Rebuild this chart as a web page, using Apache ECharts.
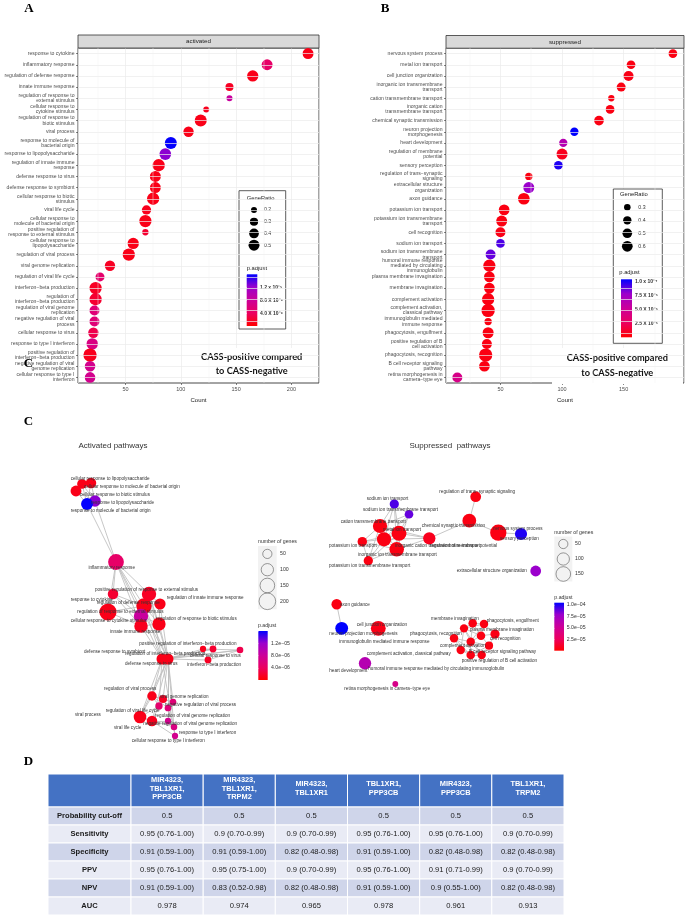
<!DOCTYPE html>
<html><head><meta charset="utf-8">
<script src="https://cdn.jsdelivr.net/npm/echarts@6/dist/echarts.min.js"></script>
<style>html,body{margin:0;padding:0;background:#fff}#c{width:685px;height:915px}</style>
</head><body><div id="c"></div><script>
// ---------------- Panel A data (activated) ----------------
const namesA = ['response to cytokine','inflammatory response','regulation of defense response','innate immune response','regulation of response to external stimulus','cellular response to cytokine stimulus','regulation of response to biotic stimulus','viral process','response to molecule of bacterial origin','response to lipopolysaccharide','regulation of innate immune response','defense response to virus','defense response to symbiont','cellular response to biotic stimulus','viral life cycle','cellular response to molecule of bacterial origin','positive regulation of response to external stimulus','cellular response to lipopolysaccharide','regulation of viral process','viral genome replication','regulation of viral life cycle','interferon−beta production','regulation of interferon−beta production','regulation of viral genome replication','negative regulation of viral process','cellular response to virus','response to type I interferon','positive regulation of interferon−beta production','negative regulation of viral genome replication','cellular response to type I interferon'];
const labelsA = ['response to cytokine','inflammatory response','regulation of defense response','innate immune response','regulation of response to\nexternal stimulus','cellular response to\ncytokine stimulus','regulation of response to\nbiotic stimulus','viral process','response to molecule of\nbacterial origin','response to lipopolysaccharide','regulation of innate immune\nresponse','defense response to virus','defense response to symbiont','cellular response to biotic\nstimulus','viral life cycle','cellular response to\nmolecule of bacterial origin','positive regulation of\nresponse to external stimulus','cellular response to\nlipopolysaccharide','regulation of viral process','viral genome replication','regulation of viral life cycle','interferon−beta production','regulation of\ninterferon−beta production','regulation of viral genome\nreplication','negative regulation of viral\nprocess','cellular response to virus','response to type I interferon','positive regulation of\ninterferon−beta production','negative regulation of viral\ngenome replication','cellular response to type I\ninterferon'];
const countA = [215,178,165,144,144,123,118,107,91,86,80,77,77,75,69,68,68,57,53,36,27,23,23,22,22,21,20,18,18,18];
const ratioA = [0.50,0.50,0.53,0.29,0.20,0.20,0.60,0.45,0.60,0.57,0.63,0.50,0.50,0.63,0.37,0.63,0.21,0.53,0.63,0.45,0.35,0.63,0.63,0.42,0.42,0.45,0.55,0.74,0.47,0.47];
const padjA = [1.0e-6,4.5e-6,1.0e-6,1.5e-6,8.4e-6,1.2e-6,1.0e-6,1.0e-6,1.6e-5,1.25e-5,1.0e-6,1.0e-6,1.0e-6,1.0e-6,1.2e-6,1.0e-6,2.0e-6,1.0e-6,1.0e-6,1.5e-6,4.8e-6,1.5e-6,2.0e-6,5.6e-6,5.6e-6,3.2e-6,6.4e-6,1.2e-6,7.2e-6,7.2e-6];
const keysA = [0.2,0.3,0.4,0.5];
const limA = [0, 1.61e-5];
const colorTicksA = [[1.2e-5,'1.2 x 10⁻⁵'],[8e-6,'8.0 X 10⁻⁶'],[4e-6,'4.0 X 10⁻⁶']];

// ---------------- Panel B data (suppressed) ----------------
const namesB = ['nervous system process','metal ion transport','cell junction organization','inorganic ion transmembrane transport','cation transmembrane transport','inorganic cation transmembrane transport','chemical synaptic transmission','neuron projection morphogenesis','heart development','regulation of membrane potential','sensory perception','regulation of trans−synaptic signaling','extracellular structure organization','axon guidance','potassium ion transport','potassium ion transmembrane transport','cell recognition','sodium ion transport','sodium ion transmembrane transport','humoral immune response mediated by circulating immunoglobulin','plasma membrane invagination','membrane invagination','complement activation','complement activation, classical pathway','immunoglobulin mediated immune response','phagocytosis, engulfment','positive regulation of B cell activation','phagocytosis, recognition','B cell receptor signaling pathway','retina morphogenesis in camera−type eye'];
const labelsB = ['nervous system process','metal ion transport','cell junction organization','inorganic ion transmembrane\ntransport','cation transmembrane transport','inorganic cation\ntransmembrane transport','chemical synaptic transmission','neuron projection\nmorphogenesis','heart development','regulation of membrane\npotential','sensory perception','regulation of trans−synaptic\nsignaling','extracellular structure\norganization','axon guidance','potassium ion transport','potassium ion transmembrane\ntransport','cell recognition','sodium ion transport','sodium ion transmembrane\ntransport','humoral immune response\nmediated by circulating\nimmunoglobulin','plasma membrane invagination','membrane invagination','complement activation','complement activation,\nclassical pathway','immunoglobulin mediated\nimmune response','phagocytosis, engulfment','positive regulation of B\ncell activation','phagocytosis, recognition','B cell receptor signaling\npathway','retina morphogenesis in\ncamera−type eye'];
const countB = [190,156,154,148,140,139,130,110,101,100,97,73,73,69,53,51,50,50,42,41,41,41,40,40,40,40,39,38,37,15];
const ratioB = [0.43,0.43,0.53,0.45,0.29,0.43,0.51,0.40,0.40,0.63,0.43,0.34,0.63,0.70,0.60,0.63,0.53,0.43,0.53,0.77,0.60,0.60,0.77,0.90,0.34,0.63,0.53,0.90,0.60,0.53];
const padjB = [5e-6,5e-6,6e-6,5e-6,5e-6,5e-6,5e-6,1.05e-4,6.5e-5,8e-6,1.0e-4,5e-6,7.9e-5,5e-6,5e-6,5e-6,6e-6,9.2e-5,8.8e-5,5e-6,5e-6,5e-6,5e-6,5e-6,5e-6,5e-6,5e-6,5e-6,5e-6,4.4e-5];
const keysB = [0.3,0.4,0.5,0.6];
const limB = [0, 1.05e-4];
const colorTicksB = [[1e-4,'1.0 x 10⁻⁴'],[7.5e-5,'7.5 X 10⁻⁵'],[5e-5,'5.0 X 10⁻⁵'],[2.5e-5,'2.5 X 10⁻⁵']];

// ---------------- Panel C networks ----------------
const netLNames = ['cellular response to lipopolysaccharide','cellular response to molecule of bacterial origin','cellular response to biotic stimulus','response to lipopolysaccharide','response to molecule of bacterial origin','inflammatory response','positive regulation of response to external stimulus','regulation of innate immune response','response to cytokine','regulation of defense response','regulation of response to external stimulus','regulation of response to biotic stimulus','cellular response to cytokine stimulus','innate immune response','positive regulation of interferon−beta production','regulation of interferon−beta production','cellular response to virus','interferon−beta production','defense response to symbiont','defense response to virus','regulation of viral process','viral genome replication','negative regulation of viral process','regulation of viral life cycle','regulation of viral genome replication','viral process','viral life cycle','negative regulation of viral genome replication','response to type I interferon','cellular response to type I interferon'];
const netLLayout = [[82,484],[91,483],[76,491],[95,501],[87,504],[116,562],[113,594],[160,604],[108,612],[144,606],[141,616],[159,624],[141,626],[149,594],[203,649],[213,649],[240,650],[208,660],[162,659],[168,659],[152,696],[163,699],[173,702],[159,706],[168,708],[140,717],[152,721],[168,721],[174,727],[175,736]];
const netLEdges = [[0,1],[0,2],[1,2],[0,3],[1,3],[2,3],[0,4],[1,4],[2,4],[3,4],[3,5],[4,5],[5,6],[5,8],[5,9],[5,12],[5,13],[5,18],[5,19],[6,8],[6,9],[6,10],[6,12],[7,9],[7,11],[7,13],[8,9],[8,12],[9,10],[9,11],[9,12],[9,13],[10,11],[10,12],[11,12],[11,13],[12,13],[7,19],[9,19],[11,19],[13,19],[12,18],[13,18],[9,18],[19,14],[19,15],[19,16],[19,17],[18,15],[18,16],[14,15],[14,17],[15,17],[16,17],[14,16],[18,19],[19,20],[19,21],[19,22],[19,24],[19,25],[19,26],[19,27],[19,28],[18,20],[18,25],[18,23],[18,29],[20,21],[20,22],[20,23],[20,24],[20,25],[21,22],[21,24],[22,24],[22,27],[23,25],[23,26],[24,27],[25,26],[25,28],[26,27],[27,28],[28,29],[26,29],[24,28]];
const netRNames = ['sodium ion transport','sodium ion transmembrane transport','cation transmembrane transport','metal ion transport','inorganic cation transmembrane transport','regulation of membrane potential','potassium ion transport','inorganic ion transmembrane transport','potassium ion transmembrane transport','chemical synaptic transmission','regulation of trans−synaptic signaling','nervous system process','sensory perception','extracellular structure organization','axon guidance','neuron projection morphogenesis','cell junction organization','heart development','retina morphogenesis in camera−type eye','membrane invagination','phagocytosis, engulfment','plasma membrane invagination','phagocytosis, recognition','cell recognition','immunoglobulin mediated immune response','complement activation','complement activation, classical pathway','B cell receptor signaling pathway','positive regulation of B cell activation','humoral immune response mediated by circulating immunoglobulin'];
const netRLayout = [[394.3,504],[409,514.3],[380,526],[399,533.3],[384,539.3],[429.3,538.3],[362.3,541.7],[396.7,549.3],[368.3,560.7],[469.3,520.7],[475.7,496.7],[498.3,532.7],[521,534],[535.7,571],[336.7,604.3],[341.7,628.3],[378.3,628.3],[365,663.3],[395.3,684],[472.7,623.3],[484,624],[481,635.7],[464,628.3],[495,634],[454,638.3],[470.7,641.7],[460.7,650],[489,645.7],[481.7,655],[470.7,655]];
const netREdges = [[0,1],[0,2],[0,3],[0,4],[0,7],[1,2],[1,3],[1,4],[1,7],[2,3],[2,4],[2,6],[2,7],[2,8],[3,4],[3,5],[3,6],[3,7],[3,8],[4,5],[4,6],[4,7],[4,8],[5,7],[6,7],[6,8],[7,8],[5,9],[2,5],[9,10],[9,11],[11,12],[14,15],[19,20],[19,21],[19,22],[19,25],[20,21],[20,22],[20,23],[21,22],[21,23],[21,25],[22,25],[22,24],[22,26],[24,25],[24,26],[24,28],[24,29],[25,26],[25,27],[25,28],[25,29],[26,29],[26,28],[27,28],[27,23],[28,29],[27,29],[21,27],[22,28],[20,25]];
const keysCL = [50,100,150,200];
const keysCR = [50,100,150];
const colorTicksCL = [[1.2e-5,'1.2e−05'],[8e-6,'8.0e−06'],[4e-6,'4.0e−06']];
const colorTicksCR = [[1e-4,'1.0e−04'],[7.5e-5,'7.5e−05'],[5e-5,'5.0e−05'],[2.5e-5,'2.5e−05']];

// ---------------- Panel D table ----------------
const tableCols = ['MIR4323,\nTBL1XR1,\nPPP3CB','MIR4323,\nTBL1XR1,\nTRPM2','MIR4323,\nTBL1XR1','TBL1XR1,\nPPP3CB','MIR4323,\nPPP3CB','TBL1XR1,\nTRPM2'];
const tableRows = ['Probability cut-off','Sensitivity','Specificity','PPV','NPV','AUC'];
const cutoffRow = ['0.5','0.5','0.5','0.5','0.5','0.5'];
const sensRow = ['0.95 (0.76-1.00)','0.9 (0.70-0.99)','0.9 (0.70-0.99)','0.95 (0.76-1.00)','0.95 (0.76-1.00)','0.9 (0.70-0.99)'];
const specRow = ['0.91 (0.59-1.00)','0.91 (0.59-1.00)','0.82 (0.48-0.98)','0.91 (0.59-1.00)','0.82 (0.48-0.98)','0.82 (0.48-0.98)'];
const ppvRow = ['0.95 (0.76-1.00)','0.95 (0.75-1.00)','0.9 (0.70-0.99)','0.95 (0.76-1.00)','0.91 (0.71-0.99)','0.9 (0.70-0.99)'];
const npvRow = ['0.91 (0.59-1.00)','0.83 (0.52-0.98)','0.82 (0.48-0.98)','0.91 (0.59-1.00)','0.9 (0.55-1.00)','0.82 (0.48-0.98)'];
const aucRow = ['0.978','0.974','0.965','0.978','0.961','0.913'];

// ---------------- styling / layout config ----------------
const FONT = '"Liberation Sans", Arial, sans-serif';
const colorStops = ['#FF0000','#EB0060','#CC0099','#9C00CC','#0000FF'];
function pColor(p, lim){ const t = Math.max(0, Math.min(1, (p - lim[0]) / (lim[1] - lim[0]))); return echarts.color.lerp(t, colorStops); }
const sizeA = r => 3 + 8.5 * Math.sqrt(Math.max(0, (r - 0.15) / 0.4));
const sizeB = r => 3 + 8.5 * Math.sqrt(Math.max(0, (r - 0.22) / 0.46));
const sizeC = n => 1.8 + 1.05 * Math.sqrt(n);
const netLLabelAt = [[70.7,479],[84,486.7],[80,494.3],[91,502.3],[70.7,510.3],[88.5,567.3],[95,590],[166.7,597.7],[70.7,599.3],[96.7,602.7],[77.3,611.3],[156,619],[70.7,620.3],[110,631.7],[139.3,644],[125,654],[190,655.3],[187.3,664.7],[84,652],[125,663.3],[104,688.7],[160,696.3],[165,704.3],[105.7,711],[155,716],[75,715],[114,727.3],[143.3,723.3],[179,732.7],[131.7,740.7]];
const netRLabelAt = [[366.7,499],[363,509.7],[340.7,521.3],[383,529.3],[395,545.3],[430,545.3],[329,546],[358,554.7],[329,566],[421.7,525.3],[439.3,492],[493,528.3],[500,539],[456.7,571],[340,604.3],[329.3,633.3],[356.7,624.3],[329.3,670.3],[344.3,688.7],[431,619],[486.7,620.3],[470,630],[410,633.7],[490,638.3],[339.3,641.3],[440,646],[366.7,653.3],[469,651.3],[461.7,660.3],[368.3,668.3]];
const colEdges = [0,83,155.2,227.3,299.5,371.7,443.8,516];
const rowEdges = [0,33,51,69,87,105,123,141];

const chart = echarts.init(document.getElementById('c'), null, {renderer:'canvas', width:685, height:915});

function tickFmt(list, lim){ return v => { const f = list.find(t => Math.abs(t[0]-v) < (lim[1]-lim[0])*1e-3); return f ? f[1] : ''; }; }
const hiddenX = (g, min, max) => ({gridIndex:g, type:'value', show:false, min, max});
const hiddenY = (g, min, max, inv) => ({gridIndex:g, type:'value', show:false, min, max, inverse:!!inv});

function catAxis(g, names, labels){
  return {gridIndex:g, type:'category', data:names, inverse:true,
    axisLine:{show:false}, axisTick:{show:true, alignWithLabel:true, length:2, lineStyle:{color:'#333', width:0.6}},
    axisLabel:{interval:0, fontSize:5.1, lineHeight:5.2, color:'#4D4D4D', fontFamily:FONT, margin:3.5, formatter:(v,i)=>labels[i]},
    splitLine:{show:false}};
}
function countAxis(g, min, max){
  return {gridIndex:g, type:'value', min, max, splitNumber:4,
    axisLine:{show:false}, axisTick:{show:true, length:2, lineStyle:{color:'#333', width:0.6}},
    axisLabel:{fontSize:5.5, color:'#4D4D4D', fontFamily:FONT, margin:3.5, showMinLabel:false, showMaxLabel:false},
    splitLine:{show:true, lineStyle:{color:'#EBEBEB', width:0.7}},
    name:'Count', nameLocation:'middle', nameGap:14, nameTextStyle:{fontSize:6, color:'#1A1A1A', fontFamily:FONT}};
}
function keyAxis(g, keys, margin){
  return {gridIndex:g, type:'category', data:keys.map(String), inverse:true, position:'right', z:3,
    axisLine:{show:false}, axisTick:{show:false}, splitLine:{show:false},
    axisLabel:{fontSize:5.2, color:'#333', fontFamily:FONT, margin}};
}
function barAxis(g, lim, interval, ticks, margin, bold){
  return {gridIndex:g, type:'value', min:lim[0], max:lim[1], interval, position:'right', z:3,
    axisLine:{show:false}, splitLine:{show:false},
    axisTick:{show:true, inside:true, length:2, lineStyle:{color:'#fff', width:0.8}},
    axisLabel:{fontSize:bold?5:5.2, fontWeight:bold?'bold':'normal', color:'#333', fontFamily:FONT, margin, formatter:tickFmt(ticks, lim), showMinLabel:false, showMaxLabel:false}};
}
const barGradient = () => new echarts.graphic.LinearGradient(0,0,0,1, colorStops.slice().reverse().map((c,i,a)=>({offset:i/(a.length-1), color:c})));
function colorBarSeries(ax, lim){
  return {type:'custom', xAxisIndex:ax, yAxisIndex:ax, z:3, silent:true, data:[[0, lim[0], lim[1]]],
    renderItem:(params, api) => {
      const p0 = api.coord([0, api.value(2)]); const p1 = api.coord([1, api.value(1)]);
      return {type:'rect', shape:{x:p0[0], y:p0[1], width:p1[0]-p0[0], height:p1[1]-p0[1]}, style:{fill:barGradient()}};
    }};
}
function gridLineSeries(ax, names, minor){
  return {type:'scatter', xAxisIndex:ax, yAxisIndex:ax, data:[], z:1, silent:true,
    markLine:{silent:true, symbol:'none', label:{show:false}, animation:false,
      data:[...names.map(n=>({yAxis:n, lineStyle:{color:'#EBEBEB', width:0.7, type:'solid'}})),
            ...minor.map(v=>({xAxis:v, lineStyle:{color:'#F2F2F2', width:0.45, type:'solid'}}))]}};
}
function netNodes(names, layout, labelAt, refNames, refCounts, refP, lim){
  return names.map((n,i)=>{
    const k = refNames.indexOf(n);
    return {name:n, value:[layout[i][0], layout[i][1]], symbolSize:sizeC(refCounts[k]),
      itemStyle:{color:pColor(refP[k], lim)},
      label:{offset:[labelAt[i][0]-layout[i][0], labelAt[i][1]-layout[i][1]]}};
  });
}
function graphSeries(nodes, edges){
  return {type:'graph', layout:'none', coordinateSystem:'cartesian2d', xAxisIndex:6, yAxisIndex:6, silent:true, z:3,
    symbol:'circle', data:nodes, links:edges.map(e=>({source:e[0], target:e[1]})),
    lineStyle:{color:'#BDBDBD', width:0.9, opacity:0.95, curveness:0},
    label:{show:true, position:'inside', align:'left', verticalAlign:'middle', fontSize:4.6, color:'#333', fontFamily:FONT},
    emphasis:{disabled:true}};
}

// table cells
const tableValues = [cutoffRow, sensRow, specRow, ppvRow, npvRow, aucRow];
const cells = [{c:0, r:0, t:''}];
tableCols.forEach((h,j)=>cells.push({c:j+1, r:0, t:h}));
tableRows.forEach((rl,i)=>{ cells.push({c:0, r:i+1, t:rl}); tableValues[i].forEach((v,j)=>cells.push({c:j+1, r:i+1, t:v})); });

const T = (text, x, y, font, fill, align, z) => ({type:'text', x, y, z:z||5, silent:true,
  style:{text, font, fill:fill||'#1A1A1A', textAlign:align||'left', align:align||'left', textVerticalAlign:'middle', verticalAlign:'middle'}});
const R = (x, y, w, h, fill, stroke, z) => ({type:'rect', z:z||1, silent:true, shape:{x, y, width:w, height:h}, style:{fill, stroke:stroke||null, lineWidth:stroke?0.8:0}});
const LETTER = 'bold 13px "Liberation Serif", "DejaVu Serif", serif';
const CASS = 'bold 9.2px Lato, "Open Sans", sans-serif';

const option = {
  animation:false,
  backgroundColor:'#fff',
  grid:[
    {left:78, top:48, width:241, height:335, show:true, backgroundColor:'#fff', borderColor:'#333', borderWidth:0.9},
    {left:446, top:48, width:238, height:335, show:true, backgroundColor:'#fff', borderColor:'#333', borderWidth:0.9},
    {left:250, top:204.2, width:8, height:46.8},
    {left:246.7, top:274.3, width:10.6, height:51.7},
    {left:623, top:200.8, width:8.6, height:52},
    {left:621, top:279.3, width:11, height:58},
    {left:0, top:0, width:685, height:915},
    {left:258, top:546, width:18.7, height:63.2, show:true, backgroundColor:'#F2F2F2', borderWidth:0},
    {left:258.3, top:631, width:9.4, height:49},
    {left:554.3, top:536.5, width:18, height:45, show:true, backgroundColor:'#F2F2F2', borderWidth:0},
    {left:554.3, top:602.7, width:9.7, height:48},
    {left:48, top:774, width:516, height:141}
  ],
  xAxis:[
    countAxis(0, 7.1, 224.9), countAxis(1, 5.8, 199),
    hiddenX(2,0,2), hiddenX(3,0,1), hiddenX(4,0,2), hiddenX(5,0,1),
    hiddenX(6,0,685), hiddenX(7,0,2), hiddenX(8,0,1), hiddenX(9,0,2), hiddenX(10,0,1),
    hiddenX(11,0,516)
  ],
  yAxis:[
    catAxis(0, namesA, labelsA), catAxis(1, namesB, labelsB),
    keyAxis(2, keysA, 6), barAxis(3, limA, 4e-6, colorTicksA, 2.7, true),
    keyAxis(4, keysB, 6.7), barAxis(5, limB, 2.5e-5, colorTicksB, 3, true),
    hiddenY(6,0,915,true),
    keyAxis(7, keysCL, 3.3), barAxis(8, limA, 4e-6, colorTicksCL, 3.3, false),
    keyAxis(9, keysCR, 2.7), barAxis(10, limB, 2.5e-5, colorTicksCR, 2.7, false),
    hiddenY(11,0,141,true)
  ],
  series:[
    gridLineSeries(0, namesA, [25,75,125,175,225]),
    gridLineSeries(1, namesB, [25,75,125,175]),
    {type:'scatter', xAxisIndex:0, yAxisIndex:0, z:2, silent:true,
      data:namesA.map((n,i)=>[countA[i], n, ratioA[i], padjA[i]]),
      symbolSize:v=>sizeA(v[2]), itemStyle:{opacity:1, color:p=>pColor(p.value[3], limA)}},
    {type:'scatter', xAxisIndex:1, yAxisIndex:1, z:2, silent:true,
      data:namesB.map((n,i)=>[countB[i], n, ratioB[i], padjB[i]]),
      symbolSize:v=>sizeB(v[2]), itemStyle:{opacity:1, color:p=>pColor(p.value[3], limB)}},
    {type:'scatter', xAxisIndex:2, yAxisIndex:2, z:3, silent:true, data:keysA.map(k=>[1, String(k)]), symbolSize:v=>sizeA(+v[1]), itemStyle:{color:'#000', opacity:1}},
    {type:'scatter', xAxisIndex:4, yAxisIndex:4, z:3, silent:true, data:keysB.map(k=>[1, String(k)]), symbolSize:v=>sizeB(+v[1]), itemStyle:{color:'#000', opacity:1}},
    colorBarSeries(3, limA), colorBarSeries(5, limB),
    colorBarSeries(8, limA), colorBarSeries(10, limB),
    {type:'scatter', xAxisIndex:7, yAxisIndex:7, z:3, silent:true, data:keysCL.map(k=>[1, String(k)]), symbolSize:v=>sizeC(+v[1]), itemStyle:{color:'rgba(255,255,255,0)', borderColor:'#555', borderWidth:0.6, opacity:1}},
    {type:'scatter', xAxisIndex:9, yAxisIndex:9, z:3, silent:true, data:keysCR.map(k=>[1, String(k)]), symbolSize:v=>sizeC(+v[1]), itemStyle:{color:'rgba(255,255,255,0)', borderColor:'#555', borderWidth:0.6, opacity:1}},
    graphSeries(netNodes(netLNames, netLLayout, netLLabelAt, namesA, countA, padjA, limA), netLEdges),
    graphSeries(netNodes(netRNames, netRLayout, netRLabelAt, namesB, countB, padjB, limB), netREdges),
    {type:'custom', xAxisIndex:11, yAxisIndex:11, z:3, silent:true, data:cells.map(d=>[d.c, d.r]),
      renderItem:(params, api)=>{
        const d = cells[params.dataIndex];
        const p0 = api.coord([colEdges[d.c], rowEdges[d.r]]);
        const p1 = api.coord([colEdges[d.c+1], rowEdges[d.r+1]]);
        const head = d.r === 0;
        const fill = head ? '#4472C4' : (d.r % 2 === 1 ? '#CFD5EA' : '#E9EBF5');
        const font = head ? 'bold 7.4px ' + FONT : (d.c === 0 ? 'bold 7.6px ' + FONT : '7.6px ' + FONT);
        return {type:'group', children:[
          {type:'rect', shape:{x:p0[0], y:p0[1], width:p1[0]-p0[0], height:p1[1]-p0[1]}, style:{fill, stroke:'#fff', lineWidth:1}},
          {type:'text', x:(p0[0]+p1[0])/2, y:(p0[1]+p1[1])/2 + (head ? -2 : 0),
            style:{text:d.t, font, fill: head ? '#fff' : '#1A1A1A', textAlign:'center', align:'center', textVerticalAlign:'middle', verticalAlign:'middle', lineHeight:8.3}}
        ]};
      }}
  ],
  graphic:[
    T('A', 29, 9, LETTER, '#000', 'center', 6),
    T('B', 385, 9, LETTER, '#000', 'center', 6),
    T('C', 28.5, 363.5, LETTER, '#000', 'center', 6),
    T('C', 28.5, 422, LETTER, '#000', 'center', 6),
    T('D', 28.5, 762, LETTER, '#000', 'center', 6),
    R(78, 35, 241, 13, '#D9D9D9', '#333', 1),
    T('activated', 198.5, 41.7, '6.2px ' + FONT, '#1A1A1A', 'center'),
    R(446, 35.5, 238, 12.7, '#D9D9D9', '#333', 1),
    T('suppressed', 565, 42, '6.2px ' + FONT, '#1A1A1A', 'center'),
    R(239, 190.7, 46.7, 138.3, '#fff', '#333', 1.5),
    T('GeneRatio', 246.7, 198.7, '5.8px ' + FONT),
    T('p.adjust', 246.7, 268.3, '5.8px ' + FONT),
    R(613.3, 189, 49, 154.3, '#fff', '#333', 1.5),
    T('GeneRatio', 620, 194.5, '5.8px ' + FONT),
    T('p.adjust', 619.3, 272.3, '5.8px ' + FONT),
    R(188, 348, 128, 34, '#fff', null, 4),
    T('CASS-positive compared', 251.7, 356.7, CASS, '#111', 'center'),
    T('to CASS-negative', 251.7, 371, CASS, '#111', 'center'),
    R(552, 348, 131, 36, '#fff', null, 4),
    T('CASS-positive compared', 617.3, 357.7, CASS, '#111', 'center'),
    T('to CASS-negative', 617.3, 372.7, CASS, '#111', 'center'),
    T('Activated pathways', 113, 446, '8px ' + FONT, '#333', 'center'),
    T('Suppressed  pathways', 450, 446, '8px ' + FONT, '#333', 'center'),
    T('number of genes', 258, 541.7, '5.2px ' + FONT, '#333'),
    T('p.adjust', 258, 625.3, '5.2px ' + FONT, '#333'),
    T('number of genes', 554.3, 532.3, '5.2px ' + FONT, '#333'),
    T('p.adjust', 554.3, 597.3, '5.2px ' + FONT, '#333')
  ]
};
chart.setOption(option);
</script></body></html>
